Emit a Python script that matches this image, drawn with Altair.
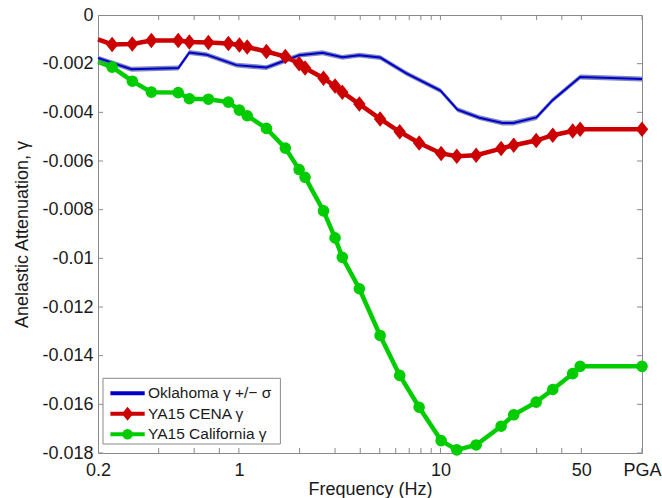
import altair as alt
import pandas as pd

# ---------------- data ----------------
# YA15 frequencies in Hz; 100 is the PGA position at the right edge
ya15_freq = [0.2, 0.235, 0.296, 0.368, 0.5, 0.568, 0.706, 0.887, 1.006, 1.1,
             1.37, 1.7, 1.99, 2.13, 2.63, 3.0, 3.26, 3.96, 5.02, 6.28,
             7.84, 10.08, 12.05, 15.04, 20.0, 23.1, 29.85, 36.08, 45.3, 49.35,
             100]
cena_gamma = [-0.00100, -0.00121, -0.00119, -0.00105, -0.00105, -0.00111, -0.00113, -0.00117, -0.00123, -0.00132,
              -0.00150, -0.00171, -0.00200, -0.00218, -0.00260, -0.00292, -0.00317, -0.00366, -0.00427, -0.00480,
              -0.00526, -0.00569, -0.00580, -0.00576, -0.00549, -0.00535, -0.00516, -0.00494, -0.00477, -0.00470,
              -0.00470]
california_gamma = [-0.00193, -0.00214, -0.00272, -0.00317, -0.00319, -0.00344, -0.00346, -0.00358, -0.00391, -0.00414,
                    -0.00466, -0.00547, -0.00635, -0.00667, -0.00805, -0.00916, -0.00996, -0.01125, -0.01317, -0.01481,
                    -0.01612, -0.01749, -0.01787, -0.01767, -0.01690, -0.01643, -0.01591, -0.01539, -0.01474, -0.01444,
                    -0.01444]

ok_freq = [0.2, 0.293, 0.501, 0.568, 0.69, 0.972, 1.369, 1.701, 2.0, 2.6,
           3.26, 3.96, 5.03, 6.78, 10.0, 12.15, 15.6, 20.3, 23.0, 29.95,
           36.0, 49.35, 100]
ok_gamma = [-0.00177, -0.00223, -0.00218, -0.00154, -0.00163, -0.00206, -0.00216, -0.00187, -0.00165, -0.00155,
            -0.00174, -0.00165, -0.00175, -0.00240, -0.00311, -0.00389, -0.00422, -0.00444, -0.00444, -0.00421,
            -0.00350, -0.00255, -0.00263]
ok_sigma = [0.0001, 0.0001, 0.0001, 0.0001, 0.0001, 0.0001, 0.0001, 0.0001, 0.0001, 0.0001,
            0.0001, 0.0001, 0.0001, 0.0001, 0.0001, 0.0001, 0.0001, 0.0001, 0.0001, 0.0001,
            0.0001, 0.0001, 0.0001]

series_names = ["Oklahoma γ +/− σ", "YA15 CENA γ", "YA15 California γ"]
series_colors = ["#0000CC", "#CC0000", "#00CC00"]

x_label_values = [0.2, 1, 10, 50, 100]
x_tick_values = [0.2, 0.4, 0.6, 0.8, 1, 2, 3, 4, 5, 6, 7, 8, 9, 10, 20, 30, 40, 50, 100]
y_tick_values = [0, -0.002, -0.004, -0.006, -0.008, -0.01, -0.012, -0.014, -0.016, -0.018]

# ---------------- tables ----------------
ya_df = pd.DataFrame({
    "freq": ya15_freq * 2,
    "gamma": cena_gamma + california_gamma,
    "series": [series_names[1]] * len(ya15_freq) + [series_names[2]] * len(ya15_freq),
})
ok_df = pd.DataFrame({
    "freq": ok_freq,
    "gamma": ok_gamma,
    "lower": [g - s for g, s in zip(ok_gamma, ok_sigma)],
    "upper": [g + s for g, s in zip(ok_gamma, ok_sigma)],
    "series": [series_names[0]] * len(ok_freq),
})
legend_df = pd.DataFrame({"series": series_names})
xtick_df = pd.DataFrame({"freq": x_tick_values})
ytick_df = pd.DataFrame({"gamma": y_tick_values})

W, H = 544, 438
FONT = "Liberation Sans"
TXT = "#1a1a1a"
FRAME = "#8a8a8a"
DIAMOND = "M0,-1L0.8,0L0,1L-0.8,0Z"

xscale = alt.Scale(type="log", domain=[0.2, 100], nice=False)
yscale = alt.Scale(domain=[-0.018, 0], nice=False, zero=False)
cscale = alt.Scale(domain=series_names, range=series_colors)

xlabel_expr = "datum.value == 100 ? 'PGA' : format(datum.value, '~g')"
ylabel_expr = "replace(format(datum.value, '.3~f'), '\u2212', '-')"

x_bottom = alt.Axis(orient="bottom", values=x_label_values, labelExpr=xlabel_expr,
                    ticks=False, domain=False, grid=False,
                    labelFont=FONT, labelFontSize=18, labelColor=TXT, labelPadding=8,
                    labelFlush=False, labelOverlap=False,
                    title="Frequency (Hz)", titleFont=FONT, titleFontSize=18,
                    titleFontWeight="normal", titleColor=TXT, titlePadding=1)
y_left = alt.Axis(orient="left", values=y_tick_values, labelExpr=ylabel_expr,
                  ticks=False, domain=False, grid=False,
                  labelFont=FONT, labelFontSize=18, labelColor=TXT, labelPadding=5,
                  labelOverlap=False, labelFlush=False,
                  title="Anelastic Attenuation, γ", titleFont=FONT, titleFontSize=18,
                  titleFontWeight="normal", titleColor=TXT, titlePadding=10)

X = alt.X("freq:Q", scale=xscale, axis=None)
Y = alt.Y("gamma:Q", scale=yscale, axis=None)

# Oklahoma +/- sigma band (carries the labelled axes)
band = alt.Chart(ok_df).mark_area(color="#7f88bc").encode(
    x=alt.X("freq:Q", scale=xscale, axis=x_bottom),
    y=alt.Y("lower:Q", scale=yscale, axis=y_left),
    y2="upper:Q",
)

ok_line = alt.Chart(ok_df).mark_line(strokeWidth=2.0).encode(
    x=X, y=Y, color=alt.Color("series:N", scale=cscale, legend=None),
)

ya_lines = alt.Chart(ya_df).mark_line(strokeWidth=4.5).encode(
    x=X, y=Y, color=alt.Color("series:N", scale=cscale, legend=None), detail="series:N",
)

diamonds = alt.Chart(ya_df).transform_filter(
    (alt.datum.series == series_names[1]) & (alt.datum.freq > 0.21)
).mark_point(filled=True, opacity=1, shape=DIAMOND, size=240).encode(
    x=X, y=Y, color=alt.Color("series:N", scale=cscale, legend=None),
)

circles = alt.Chart(ya_df).transform_filter(
    (alt.datum.series == series_names[2]) & (alt.datum.freq > 0.21)
).mark_point(filled=True, opacity=1, shape="circle", size=135).encode(
    x=X, y=Y, color=alt.Color("series:N", scale=cscale, legend=None),
)

# inward tick marks on all four sides of the box (clipped to the plot area)
tick_style = dict(color=FRAME, size=10, thickness=1, opacity=1, clip=True)
xticks_bottom = alt.Chart(xtick_df).mark_tick(orient="vertical", **tick_style).encode(
    x=X, y=alt.YDatum(-0.018, axis=None))
xticks_top = alt.Chart(xtick_df).mark_tick(orient="vertical", **tick_style).encode(
    x=X, y=alt.YDatum(0, axis=None))
yticks_left = alt.Chart(ytick_df).mark_tick(orient="horizontal", **tick_style).encode(
    y=Y, x=alt.XDatum(0.2, axis=None))
yticks_right = alt.Chart(ytick_df).mark_tick(orient="horizontal", **tick_style).encode(
    y=Y, x=alt.XDatum(100, axis=None))

# legend box drawn in the lower-left corner of the plot area
LX0, LX1, LY0, LY1 = 5, 182.4, 363.3, 429
SYM0, SYM1, TXT_X = 12.4, 46.7, 50
ROW_Y = [378.3, 398.8, 419.3]

legend_layers = [
    alt.Chart(legend_df).transform_filter(alt.datum.series == series_names[0]).mark_rect(
        fill="white", stroke=FRAME, strokeWidth=1
    ).encode(x=alt.value(LX0), x2=alt.value(LX1), y=alt.value(LY0), y2=alt.value(LY1))
]
for i, (name, col) in enumerate(zip(series_names, series_colors)):
    sub = alt.Chart(legend_df).transform_filter(alt.datum.series == name)
    legend_layers.append(
        sub.mark_rule(color=col, strokeWidth=4).encode(
            x=alt.value(SYM0), x2=alt.value(SYM1), y=alt.value(ROW_Y[i]))
    )
    if i == 1:
        legend_layers.append(
            sub.mark_point(filled=True, opacity=1, shape=DIAMOND, size=200, color=col).encode(
                x=alt.value((SYM0 + SYM1) / 2), y=alt.value(ROW_Y[i]))
        )
    if i == 2:
        legend_layers.append(
            sub.mark_point(filled=True, opacity=1, shape="circle", size=110, color=col).encode(
                x=alt.value((SYM0 + SYM1) / 2), y=alt.value(ROW_Y[i]))
        )
    legend_layers.append(
        sub.mark_text(align="left", baseline="middle", font=FONT, fontSize=15.5, color=TXT).encode(
            x=alt.value(TXT_X), y=alt.value(ROW_Y[i]), text="series:N")
    )

chart = alt.layer(
    band, ok_line, ya_lines, diamonds, circles,
    xticks_bottom, xticks_top, yticks_left, yticks_right,
    *legend_layers,
).resolve_axis(
    x="independent", y="independent"
).properties(
    width=W, height=H, autosize="none",
    padding={"left": 98, "top": 15, "right": 20, "bottom": 45},
    background="white",
).configure_view(stroke=FRAME, strokeWidth=1)

chart.save("out.html", embed_options={"renderer": "svg", "actions": False})
